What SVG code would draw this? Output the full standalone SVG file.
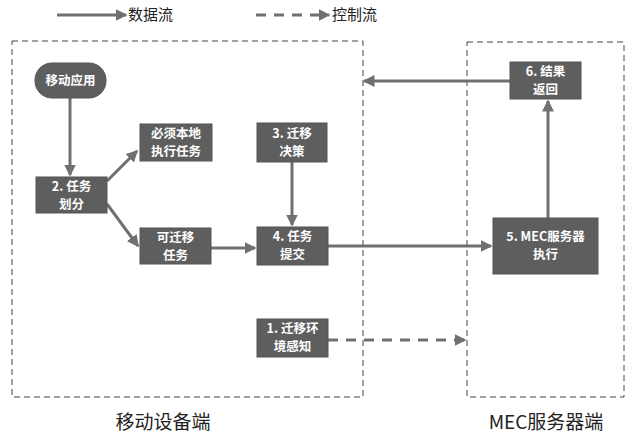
<svg xmlns="http://www.w3.org/2000/svg" width="637" height="443" viewBox="0 0 637 443">
<style>
.node{fill:#5e5e5e;stroke:#555;stroke-width:1}
.nt{fill:#fff;font-family:"Noto Sans CJK SC","Liberation Sans",sans-serif;font-size:12.5px;font-weight:bold;text-anchor:middle}
.lbl{fill:#222;font-family:"Noto Sans CJK SC","Liberation Sans",sans-serif;font-size:19px;text-anchor:middle}
.leg{fill:#222;font-family:"Noto Sans CJK SC","Liberation Sans",sans-serif;font-size:15px}
.zone{fill:none;stroke:#444;stroke-width:1;stroke-dasharray:6,4}
.data{fill:none;stroke:#707070;stroke-width:3;marker-end:url(#ah)}
.ctrl{fill:none;stroke:#707070;stroke-width:3;stroke-dasharray:10,8;marker-end:url(#ah)}
</style>
<defs>
<marker id="ah" markerWidth="4" markerHeight="4" refX="3.5" refY="2" orient="auto" markerUnits="strokeWidth">
<path d="M0,0 L4,2 L0,4 z" fill="#707070"/>
</marker>
</defs>
<rect width="637" height="443" fill="#fff"/>
<g id="legend">
<line x1="57" y1="15" x2="126" y2="15" class="data"/>
<text x="128" y="20" class="leg">数据流</text>
<line x1="256" y1="15" x2="329" y2="15" class="ctrl"/>
<text x="332" y="20" class="leg">控制流</text>
</g>
<g id="zone-mobile">
<rect x="12" y="41" width="351" height="356" class="zone"/>
<text x="163" y="429" class="lbl">移动设备端</text>
</g>
<g id="zone-mec">
<rect x="467" y="42" width="157" height="355" class="zone"/>
<text x="546" y="429" class="lbl">MEC服务器端</text>
</g>
<g id="connectors">
<line x1="70" y1="98" x2="70" y2="175" class="data"/>
<line x1="107" y1="181" x2="137" y2="151" class="data"/>
<line x1="107" y1="204" x2="138" y2="246" class="data"/>
<line x1="211" y1="248" x2="255" y2="248" class="data"/>
<line x1="292" y1="162" x2="292" y2="225" class="data"/>
<line x1="328" y1="246" x2="491" y2="246" class="data"/>
<line x1="548" y1="218" x2="548" y2="101" class="data"/>
<line x1="510" y1="81" x2="364" y2="81" class="data"/>
<line x1="328" y1="340" x2="465" y2="340" class="ctrl"/>
</g>
<g id="n-app">
<rect x="35" y="63" width="71" height="35" rx="17" class="node"/>
<text x="70.5" y="85" class="nt">移动应用</text>
</g>
<g id="n2">
<rect x="36" y="177" width="71" height="36" class="node"/>
<text x="71.5" y="191" class="nt">2. 任务<tspan x="71.5" dy="18.2">划分</tspan></text>
</g>
<g id="n-local">
<rect x="140" y="124" width="72" height="37" class="node"/>
<text x="176" y="138" class="nt">必须本地<tspan x="176" dy="18.2">执行任务</tspan></text>
</g>
<g id="n3">
<rect x="257" y="123" width="70" height="39" class="node"/>
<text x="292" y="138" class="nt">3. 迁移<tspan x="292" dy="18.2">决策</tspan></text>
</g>
<g id="n-migr">
<rect x="140" y="228" width="71" height="36" class="node"/>
<text x="175.5" y="242" class="nt">可迁移<tspan x="175.5" dy="18.2">任务</tspan></text>
</g>
<g id="n4">
<rect x="257" y="227" width="71" height="38" class="node"/>
<text x="292.5" y="241" class="nt">4. 任务<tspan x="292.5" dy="18.2">提交</tspan></text>
</g>
<g id="n5">
<rect x="493" y="218" width="105" height="56" class="node"/>
<text x="545.5" y="241" class="nt">5. MEC服务器<tspan x="545.5" dy="18.2">执行</tspan></text>
</g>
<g id="n6">
<rect x="510" y="62" width="71" height="37" class="node"/>
<text x="545.5" y="76" class="nt">6. 结果<tspan x="545.5" dy="18.2">返回</tspan></text>
</g>
<g id="n1">
<rect x="257" y="319" width="71" height="38" class="node"/>
<text x="292.5" y="333" class="nt">1. 迁移环<tspan x="292.5" dy="18.2">境感知</tspan></text>
</g>
</svg>
